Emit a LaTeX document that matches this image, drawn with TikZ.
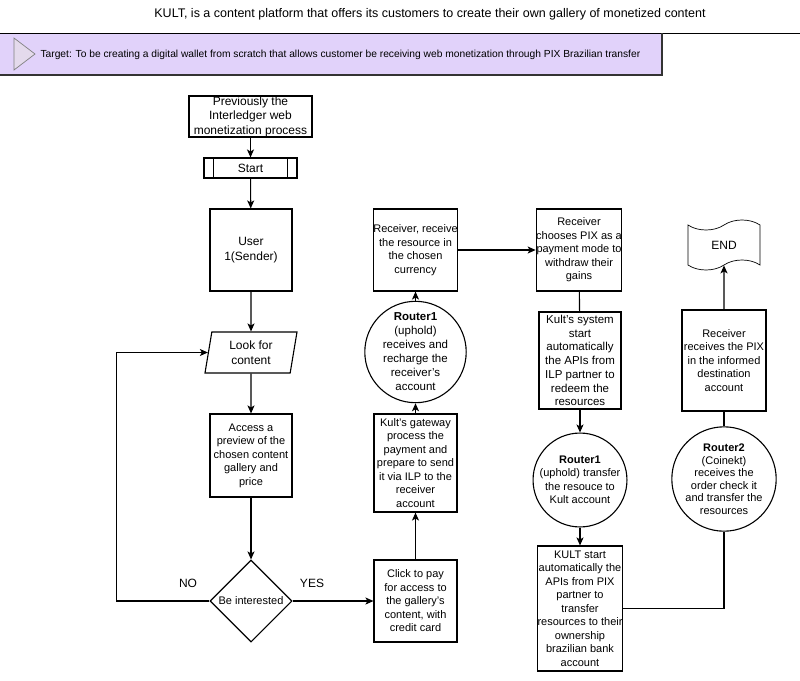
\documentclass[tikz,border=0pt]{standalone}
\usepackage{fontspec}
\setmainfont{Liberation Sans}
\usetikzlibrary{arrows.meta,shapes.geometric,shapes.symbols}

\definecolor{targetfill}{RGB}{225,210,250}
\definecolor{arrowfill}{RGB}{228,218,236}

\begin{document}
\begin{tikzpicture}[x=1pt,y=-1pt,>={Stealth[length=8pt,width=7pt,inset=2pt]},line width=1.1pt,
                    every node/.style={font=\fontsize{11}{13.5}\selectfont,align=center,inner sep=0pt},
                    box/.style={rectangle,draw,minimum width=#1},
                    box/.default=83,
                    ring/.style={circle,draw,minimum size=82},
                    label text/.style={font=\fontsize{12}{14}\selectfont}]
\useasboundingbox (0,0) rectangle (800,680);

% header
\node (title) at (430,14) [font=\fontsize{12.5}{15}\selectfont] {KULT, is a content platform that offers its customers to create their own gallery of monetized content};
\fill[targetfill] (0,33) rectangle (662,75);
\draw[line width=0.9pt] (0,33) -- (800,33);
\draw[line width=1.3pt,black!80] (662,33) -- (662,75) -- (0,75);
\draw[line width=0.7pt,gray,fill=arrowfill] (14,38) -- (35,54) -- (14,70) -- cycle;
\node (target) at (40,55) [anchor=west,font=\fontsize{10.25}{12}\selectfont] {Target: To be creating a digital wallet from scratch that allows customer be receiving web monetization through PIX Brazilian transfer};

% left column
\node[box=123,minimum height=41,font=\fontsize{12}{14.5}\selectfont] (prev) at (250.5,116.5) {Previously the\\Interledger web\\monetization process};
\node[box=93,minimum height=20,font=\fontsize{12}{14}\selectfont] (start) at (250.5,168) {Start};
\draw (start.north west) ++(10,0) -- ++(0,20);
\draw (start.north east) ++(-10,0) -- ++(0,20);
\node[box=82,minimum height=82,font=\fontsize{12}{15}\selectfont] (user) at (251,250) {User\\1(Sender)};
\node[trapezium,trapezium left angle=74,trapezium right angle=106,trapezium stretches body,draw,
      minimum width=92,minimum height=41,font=\fontsize{12}{15}\selectfont] (look) at (251,352.5) {Look for\\content};
\node[box=82,minimum height=83] (access) at (251,455.5) {Access a\\preview of the\\chosen content\\gallery and\\price};
\node[diamond,draw,minimum width=82,minimum height=82] (inter) at (251,601) {Be interested};
\node[label text] (no) at (188,583) {NO};
\node[label text] (yes) at (312,583) {YES};

% middle column
\node[box=83,minimum height=82] (click) at (415.5,601) {Click to pay\\for access to\\the gallery's\\content, with\\credit card};
\node[box=83,minimum height=98] (gate) at (415.5,463) {Kult's gateway\\process the\\payment and\\prepare to send\\it via ILP to the\\receiver\\account};
\node[ring,font=\fontsize{11.5}{14}\selectfont] (router1) at (415.5,352) {\textbf{Router1}\\(uphold)\\receives and\\recharge the\\receiver's\\account};
\node[box=83,minimum height=82] (recv) at (415.5,250) {Receiver, receive\\the resource in\\the chosen\\currency};

% right columns
\node[box=82,minimum height=82] (pix) at (579,250) {Receiver\\chooses PIX as a\\payment mode to\\withdraw their\\gains};
\node[box=82,minimum height=97,font=\fontsize{11.5}{13.7}\selectfont] (ksys) at (580,360.5) {Kult's system\\start\\automatically\\the APIs from\\ILP partner to\\redeem the\\resources};
\node[ring] (router1b) at (580,480) {\textbf{Router1}\\(uphold) transfer\\the resouce to\\Kult account};
\node[box=84,minimum height=125] (kult) at (580,608.5) {KULT start\\automatically the\\APIs from PIX\\partner to\\transfer\\resources to their\\ownership\\brazilian bank\\account};
\node[ring,font=\fontsize{11}{12.5}\selectfont] (router2) at (724,479) {\textbf{Router2}\\(Coinekt)\\receives the\\order check it\\and transfer the\\resources};
\node[box=84,minimum height=101] (rpix) at (724,360.5) {Receiver\\receives the PIX\\in the informed\\destination\\account};
\node[tape,draw,line width=0.7pt,tape bend height=10,minimum width=72,minimum height=50,font=\fontsize{12}{14}\selectfont] (end) at (724,245) {END};

\path[->]
(prev) edge (start)
(start) edge (user)
(user) edge (look)
(look) edge (access)
(access) edge (inter)
(inter) edge (click)
(click) edge (gate)
(gate) edge (router1)
(router1) edge (recv)
(recv) edge (pix)
(ksys) edge (router1b)
(router1b) edge (kult)
(rpix) edge (end);
\draw[->] (inter.west) -- ++(-93,0) |- (look.west);
\draw (pix) -- (ksys);
\draw (kult.east) -| (router2.south);
\draw (router2) -- (rpix);
\end{tikzpicture}
\end{document}
